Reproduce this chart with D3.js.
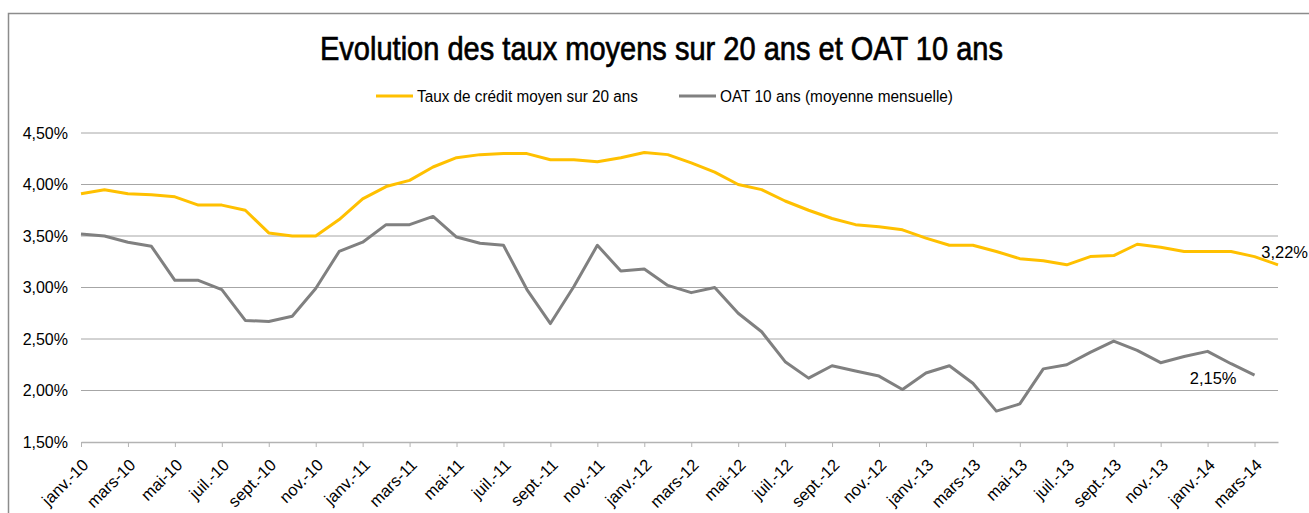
<!DOCTYPE html>
<html>
<head>
<meta charset="utf-8">
<script src="https://cdn.jsdelivr.net/npm/d3@7"></script>
<style>
  body { margin: 0; background: #fff; }
  text { font-family: "Liberation Sans Narrow", "Arial Narrow", "Liberation Sans", Arial, sans-serif; fill: #000; }
</style>
</head>
<body>
<svg width="1309" height="513"></svg>
<script>
var months = ['janv.-10','févr.-10','mars-10','avr.-10','mai-10','juin-10','juil.-10','août-10','sept.-10','oct.-10','nov.-10','déc.-10',
              'janv.-11','févr.-11','mars-11','avr.-11','mai-11','juin-11','juil.-11','août-11','sept.-11','oct.-11','nov.-11','déc.-11',
              'janv.-12','févr.-12','mars-12','avr.-12','mai-12','juin-12','juil.-12','août-12','sept.-12','oct.-12','nov.-12','déc.-12',
              'janv.-13','févr.-13','mars-13','avr.-13','mai-13','juin-13','juil.-13','août-13','sept.-13','oct.-13','nov.-13','déc.-13',
              'janv.-14','févr.-14','mars-14','avr.-14'];

var credit = [3.91,3.95,3.91,3.90,3.88,3.80,3.80,3.75,3.53,3.50,3.50,3.66,
              3.86,3.98,4.04,4.17,4.26,4.29,4.30,4.30,4.24,4.24,4.22,4.26,
              4.31,4.29,4.21,4.12,4.00,3.95,3.84,3.75,3.67,3.61,3.59,3.56,
              3.48,3.41,3.41,3.35,3.28,3.26,3.22,3.30,3.31,3.42,3.39,3.35,
              3.35,3.35,3.30,3.22];

var oat = [3.52,3.50,3.44,3.40,3.07,3.07,2.98,2.68,2.67,2.72,2.99,3.35,
           3.44,3.61,3.61,3.69,3.49,3.43,3.41,2.98,2.65,3.01,3.41,3.16,
           3.18,3.02,2.95,3.00,2.75,2.57,2.28,2.12,2.24,2.19,2.14,2.01,
           2.17,2.24,2.07,1.80,1.87,2.21,2.25,2.37,2.48,2.39,2.27,2.33,
           2.38,2.26,2.15];

var yTicks = [1.5, 2.0, 2.5, 3.0, 3.5, 4.0, 4.5];

var svg = d3.select('svg');

// outer frame
svg.append('rect')
    .attr('x', 8.5).attr('y', 13.5)
    .attr('width', 1330).attr('height', 530)
    .attr('fill', 'none')
    .attr('stroke', '#8c8c8c')
    .attr('stroke-width', 1.5);

var xScale = d3.scalePoint()
    .domain(months)
    .range([81, 1278]);

var yScale = d3.scaleLinear()
    .domain([1.5, 4.5])
    .range([442, 133]);

var fmt = function(v){ return v.toFixed(2).replace('.', ',') + '%'; };

// gridlines
svg.append('g')
    .selectAll('line')
    .data(yTicks.slice(1))
    .enter()
    .append('line')
    .attr('x1', 81).attr('x2', 1278)
    .attr('y1', function(d){ return yScale(d); })
    .attr('y2', function(d){ return yScale(d); })
    .attr('stroke', '#a6a6a6')
    .attr('stroke-width', 1);

// y axis labels
var yAxis = d3.axisLeft(yScale)
    .tickValues(yTicks)
    .tickFormat(fmt)
    .tickSize(0)
    .tickPadding(0);

var gy = svg.append('g')
    .attr('class', 'y axis')
    .attr('transform', 'translate(68,0)')
    .call(yAxis);
gy.select('.domain').remove();
gy.selectAll('text')
    .style('font-family', '"Liberation Sans", Arial, sans-serif')
    .style('font-size', '16px')
    .attr('fill', '#000');

// x axis
var xAxis = d3.axisBottom(xScale)
    .tickValues(months.filter(function(d, i){ return i % 2 === 0; }))
    .tickSize(5)
    .tickSizeOuter(0);

var gx = svg.append('g')
    .attr('class', 'x axis')
    .attr('transform', 'translate(0,442)')
    .call(xAxis);
gx.select('.domain')
    .attr('stroke', '#b3b3b3')
    .attr('stroke-width', 1.5);
gx.selectAll('.tick line')
    .attr('stroke', '#b3b3b3');
gx.selectAll('text')
    .style('font-family', '"Liberation Sans", Arial, sans-serif')
    .style('font-size', '16.5px')
    .attr('fill', '#000')
    .attr('text-anchor', 'end')
    .attr('dy', null)
    .attr('y', 0)
    .attr('transform', 'translate(8,24) rotate(-45)');

// lines
var line = d3.line()
    .x(function(d, i){ return xScale(months[i]); })
    .y(function(d){ return yScale(d); });

svg.append('path')
    .datum(credit)
    .attr('d', line)
    .attr('fill', 'none')
    .attr('stroke', '#ffc000')
    .attr('stroke-width', 3)
    .attr('stroke-linejoin', 'round');

svg.append('path')
    .datum(oat)
    .attr('d', line)
    .attr('fill', 'none')
    .attr('stroke', '#808080')
    .attr('stroke-width', 3)
    .attr('stroke-linejoin', 'round');

// end labels
var lastC = credit.length - 1;
svg.append('text')
    .attr('x', xScale(months[lastC]) + 30)
    .attr('y', yScale(credit[lastC]) - 7)
    .attr('text-anchor', 'end')
    .style('font-family', '"Liberation Sans", Arial, sans-serif')
    .style('font-size', '16.5px')
    .text(fmt(credit[lastC]));

var lastO = oat.length - 1;
svg.append('text')
    .attr('x', xScale(months[lastO]) - 18)
    .attr('y', yScale(oat[lastO]) + 9)
    .attr('text-anchor', 'end')
    .style('font-family', '"Liberation Sans", Arial, sans-serif')
    .style('font-size', '16.5px')
    .text(fmt(oat[lastO]));

// title
svg.append('text')
    .attr('x', 320).attr('y', 60)
    .attr('textLength', 683)
    .attr('lengthAdjust', 'spacingAndGlyphs')
    .attr('stroke', '#000')
    .attr('stroke-width', 0.7)
    .style('font-size', '34px')
    .text('Evolution des taux moyens sur 20 ans et OAT 10 ans');

// legend
var legend = [
    { name: 'Taux de crédit moyen sur 20 ans', color: '#ffc000', x: 376, w: 221 },
    { name: 'OAT 10 ans (moyenne mensuelle)', color: '#808080', x: 679, w: 233 }
];

var lg = svg.append('g').selectAll('g')
    .data(legend)
    .enter()
    .append('g')
    .attr('transform', function(d){ return 'translate(' + d.x + ',96)'; });

lg.append('line')
    .attr('x1', 0).attr('x2', 37)
    .attr('stroke', function(d){ return d.color; })
    .attr('stroke-width', 3);

lg.append('text')
    .attr('x', 41).attr('y', 6)
    .attr('textLength', function(d){ return d.w; })
    .attr('lengthAdjust', 'spacingAndGlyphs')
    .style('font-size', '16px')
    .text(function(d){ return d.name; });
</script>
</body>
</html>
